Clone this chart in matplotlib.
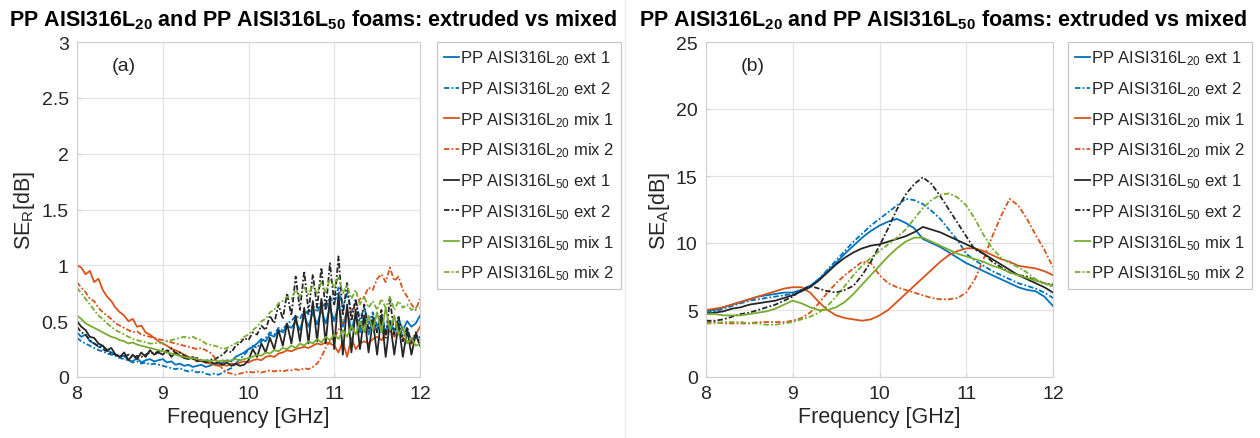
import numpy as np
import matplotlib
matplotlib.use("Agg")
import matplotlib.pyplot as plt
from matplotlib.lines import Line2D

plt.rcParams['font.family'] = ['Liberation Sans', 'DejaVu Sans']
plt.rcParams['mathtext.fontset'] = 'custom'
plt.rcParams['mathtext.rm'] = 'Liberation Sans'
plt.rcParams['mathtext.it'] = 'Liberation Sans'
plt.rcParams['mathtext.bf'] = 'Liberation Sans:bold'

# frequency grids (GHz)
freq_a = np.linspace(8, 12, 81)   # 0.05 GHz step, panel (a)
freq_b = np.linspace(8, 12, 41)   # 0.1 GHz step, panel (b)

labels = [r'PP AISI316L$_{20}$ ext 1', r'PP AISI316L$_{20}$ ext 2',
          r'PP AISI316L$_{20}$ mix 1', r'PP AISI316L$_{20}$ mix 2',
          r'PP AISI316L$_{50}$ ext 1', r'PP AISI316L$_{50}$ ext 2',
          r'PP AISI316L$_{50}$ mix 1', r'PP AISI316L$_{50}$ mix 2']

# ---- panel (a): SE_R [dB] ----
ser_20_ext1 = [0.40, 0.36, 0.38, 0.32, 0.30, 0.27, 0.28, 0.24, 0.22, 0.20,
               0.18, 0.19, 0.15, 0.14, 0.17, 0.13, 0.15, 0.16, 0.14, 0.15,
               0.16, 0.13, 0.14, 0.11, 0.12, 0.10, 0.11, 0.09, 0.10, 0.11,
               0.09, 0.10, 0.12, 0.11, 0.13, 0.15, 0.14, 0.18, 0.20, 0.22,
               0.25, 0.27, 0.30, 0.34, 0.32, 0.38, 0.36, 0.42, 0.40, 0.46,
               0.44, 0.50, 0.42, 0.55, 0.45, 0.58, 0.47, 0.60, 0.48, 0.62,
               0.50, 0.65, 0.45, 0.60, 0.42, 0.56, 0.40, 0.55, 0.38, 0.52,
               0.40, 0.55, 0.38, 0.50, 0.40, 0.52, 0.42, 0.50, 0.45, 0.48,
               0.55]
ser_20_ext2 = [0.35, 0.32, 0.30, 0.28, 0.26, 0.24, 0.23, 0.21, 0.20, 0.19,
               0.17, 0.16, 0.15, 0.13, 0.14, 0.12, 0.13, 0.11, 0.12, 0.11,
               0.10, 0.09, 0.08, 0.07, 0.08, 0.06, 0.05, 0.06, 0.04, 0.05,
               0.03, 0.02, 0.03, 0.02, 0.04, 0.06, 0.08, 0.12, 0.16, 0.20,
               0.24, 0.28, 0.26, 0.32, 0.35, 0.40, 0.38, 0.44, 0.42, 0.48,
               0.50, 0.55, 0.52, 0.60, 0.56, 0.64, 0.58, 0.68, 0.60, 0.72,
               0.65, 0.80, 0.62, 0.75, 0.58, 0.68, 0.52, 0.62, 0.48, 0.58,
               0.45, 0.55, 0.42, 0.50, 0.40, 0.46, 0.36, 0.42, 0.33, 0.38,
               0.35]
ser_20_mix1 = [1.00, 0.98, 0.92, 0.95, 0.85, 0.88, 0.78, 0.72, 0.68, 0.62,
               0.58, 0.55, 0.50, 0.52, 0.45, 0.46, 0.40, 0.38, 0.35, 0.32,
               0.30, 0.28, 0.25, 0.24, 0.22, 0.20, 0.18, 0.16, 0.15, 0.14,
               0.13, 0.12, 0.11, 0.10, 0.11, 0.10, 0.12, 0.11, 0.13, 0.14,
               0.13, 0.15, 0.16, 0.15, 0.18, 0.19, 0.18, 0.21, 0.22, 0.24,
               0.23, 0.25, 0.26, 0.27, 0.26, 0.28, 0.30, 0.29, 0.31, 0.30,
               0.28, 0.22, 0.32, 0.18, 0.35, 0.25, 0.30, 0.32, 0.30, 0.34,
               0.36, 0.33, 0.38, 0.42, 0.36, 0.40, 0.35, 0.32, 0.30, 0.38,
               0.45]
ser_20_mix2 = [0.85, 0.80, 0.76, 0.70, 0.68, 0.62, 0.58, 0.55, 0.52, 0.48,
               0.46, 0.44, 0.42, 0.40, 0.41, 0.38, 0.37, 0.36, 0.35, 0.34,
               0.33, 0.32, 0.31, 0.30, 0.29, 0.28, 0.27, 0.26, 0.25, 0.26,
               0.24, 0.22, 0.18, 0.12, 0.07, 0.04, 0.03, 0.02, 0.03, 0.04,
               0.05, 0.04, 0.05, 0.04, 0.05, 0.06, 0.05, 0.06, 0.05, 0.06,
               0.06, 0.07, 0.06, 0.08, 0.07, 0.09, 0.12, 0.18, 0.26, 0.32,
               0.35, 0.42, 0.50, 0.55, 0.62, 0.60, 0.70, 0.72, 0.80, 0.78,
               0.88, 0.92, 0.85, 0.98, 0.86, 0.90, 0.78, 0.72, 0.65, 0.60,
               0.70]
ser_50_ext1 = [0.50, 0.45, 0.42, 0.36, 0.35, 0.30, 0.28, 0.24, 0.26, 0.20,
               0.18, 0.22, 0.15, 0.20, 0.16, 0.22, 0.18, 0.24, 0.20, 0.22,
               0.20, 0.24, 0.18, 0.22, 0.19, 0.17, 0.16, 0.18, 0.14, 0.15,
               0.13, 0.14, 0.12, 0.13, 0.11, 0.13, 0.10, 0.12, 0.10, 0.11,
               0.15, 0.25, 0.18, 0.30, 0.22, 0.35, 0.25, 0.42, 0.28, 0.48,
               0.30, 0.55, 0.32, 0.62, 0.30, 0.68, 0.32, 0.70, 0.30, 0.72,
               0.25, 0.75, 0.20, 0.65, 0.22, 0.60, 0.25, 0.55, 0.22, 0.50,
               0.20, 0.55, 0.18, 0.50, 0.20, 0.48, 0.18, 0.42, 0.20, 0.38,
               0.28]
ser_50_ext2 = [0.45, 0.40, 0.38, 0.33, 0.30, 0.28, 0.25, 0.23, 0.21, 0.20,
               0.19, 0.18, 0.20, 0.17, 0.19, 0.18, 0.20, 0.22, 0.21, 0.23,
               0.25, 0.22, 0.26, 0.21, 0.22, 0.19, 0.18, 0.16, 0.17, 0.15,
               0.14, 0.16, 0.15, 0.18, 0.20, 0.24, 0.22, 0.28, 0.30, 0.35,
               0.33, 0.40, 0.38, 0.46, 0.42, 0.55, 0.48, 0.65, 0.52, 0.75,
               0.55, 0.90, 0.60, 0.95, 0.58, 0.92, 0.62, 0.98, 0.60, 1.02,
               0.65, 1.08, 0.55, 0.85, 0.50, 0.70, 0.45, 0.65, 0.42, 0.55,
               0.40, 0.60, 0.35, 0.70, 0.38, 0.55, 0.32, 0.45, 0.30, 0.40,
               0.30]
ser_50_mix1 = [0.55, 0.52, 0.48, 0.46, 0.44, 0.42, 0.40, 0.38, 0.36, 0.35,
               0.33, 0.32, 0.30, 0.31, 0.29, 0.28, 0.27, 0.26, 0.25, 0.24,
               0.23, 0.22, 0.21, 0.20, 0.19, 0.18, 0.17, 0.17, 0.16, 0.15,
               0.15, 0.14, 0.15, 0.14, 0.15, 0.14, 0.15, 0.16, 0.15, 0.16,
               0.17, 0.18, 0.20, 0.19, 0.22, 0.21, 0.24, 0.23, 0.26, 0.25,
               0.28, 0.26, 0.30, 0.28, 0.32, 0.30, 0.34, 0.31, 0.36, 0.33,
               0.38, 0.34, 0.42, 0.36, 0.46, 0.38, 0.50, 0.40, 0.55, 0.42,
               0.58, 0.40, 0.62, 0.42, 0.55, 0.38, 0.45, 0.30, 0.35, 0.28,
               0.30]
ser_50_mix2 = [0.80, 0.75, 0.70, 0.65, 0.60, 0.55, 0.52, 0.48, 0.45, 0.42,
               0.40, 0.38, 0.36, 0.34, 0.33, 0.32, 0.31, 0.30, 0.30, 0.31,
               0.30, 0.32, 0.33, 0.34, 0.35, 0.36, 0.35, 0.36, 0.34, 0.33,
               0.30, 0.29, 0.28, 0.27, 0.25, 0.26, 0.28, 0.30, 0.32, 0.36,
               0.38, 0.42, 0.45, 0.50, 0.52, 0.58, 0.60, 0.66, 0.68, 0.72,
               0.70, 0.78, 0.72, 0.80, 0.74, 0.82, 0.75, 0.85, 0.76, 0.88,
               0.80, 0.90, 0.75, 0.82, 0.70, 0.78, 0.65, 0.72, 0.62, 0.68,
               0.60, 0.70, 0.62, 0.72, 0.60, 0.68, 0.62, 0.65, 0.60, 0.62,
               0.62]

# ---- panel (b): SE_A [dB] ----
sea_20_ext1 = [4.9, 5.0, 5.2, 5.4, 5.6, 5.8, 6.0, 6.1, 6.2, 6.3,
               6.3, 6.5, 6.8, 7.3, 7.9, 8.5, 9.2, 9.8, 10.4, 10.9,
               11.3, 11.6, 11.8, 11.5, 11.1, 10.3, 10.0, 9.7, 9.3, 8.9,
               8.5, 8.2, 7.9, 7.6, 7.3, 7.0, 6.7, 6.5, 6.4, 6.0,
               5.3]
sea_20_ext2 = [4.8, 4.9, 5.1, 5.3, 5.5, 5.7, 5.8, 5.9, 6.0, 6.1,
               6.2, 6.4, 6.8, 7.3, 8.0, 8.7, 9.4, 10.1, 10.7, 11.3,
               11.8, 12.3, 12.8, 13.3, 13.2, 12.9, 12.4, 11.8, 11.0, 10.2,
               9.2, 8.7, 8.3, 7.9, 7.6, 7.3, 7.0, 6.8, 6.6, 6.3,
               5.9]
sea_20_mix1 = [5.0, 5.1, 5.2, 5.4, 5.6, 5.8, 6.0, 6.2, 6.4, 6.6,
               6.7, 6.7, 6.3, 5.6, 5.0, 4.6, 4.4, 4.3, 4.2, 4.3,
               4.6, 5.0, 5.6, 6.2, 6.8, 7.4, 8.0, 8.6, 9.1, 9.4,
               9.6, 9.6, 9.4, 9.1, 8.8, 8.6, 8.3, 8.2, 8.1, 7.9,
               7.6]
sea_20_mix2 = [4.1, 4.1, 4.0, 4.0, 4.0, 4.0, 4.1, 4.1, 4.1, 4.1,
               4.2, 4.4, 4.8, 5.5, 6.3, 7.0, 7.6, 8.1, 8.6, 8.5,
               7.6, 7.0, 6.7, 6.5, 6.3, 6.1, 5.9, 5.8, 5.8, 5.9,
               6.3, 7.3, 8.8, 10.5, 12.0, 13.3, 12.8, 11.8, 10.6, 9.5,
               8.2]
sea_50_ext1 = [4.7, 4.8, 4.9, 5.1, 5.2, 5.4, 5.5, 5.6, 5.7, 5.9,
               6.1, 6.4, 6.7, 7.2, 7.8, 8.4, 8.9, 9.3, 9.6, 9.8,
               9.9, 10.1, 10.3, 10.5, 10.8, 11.2, 11.0, 10.8, 10.5, 10.2,
               9.9, 9.6, 9.2, 8.8, 8.4, 8.0, 7.6, 7.3, 7.0, 6.7,
               6.3]
sea_50_ext2 = [4.2, 4.2, 4.3, 4.5, 4.7, 4.8, 5.0, 5.2, 5.4, 5.7,
               6.0, 6.5, 6.8, 6.6, 6.4, 6.3, 6.5, 6.8, 7.6, 8.6,
               9.8, 11.1, 12.5, 13.6, 14.4, 14.9, 14.4, 13.5, 12.5, 11.5,
               10.5, 9.5, 9.2, 8.6, 8.2, 7.8, 7.6, 7.5, 7.2, 7.0,
               6.9]
sea_50_mix1 = [4.7, 4.7, 4.6, 4.6, 4.6, 4.7, 4.8, 4.9, 5.1, 5.4,
               5.7, 5.5, 5.2, 5.0, 5.0, 5.2, 5.6, 6.2, 6.9, 7.6,
               8.3, 9.0, 9.6, 10.1, 10.4, 10.4, 10.1, 9.8, 9.5, 9.2,
               9.0, 8.8, 8.6, 8.3, 8.1, 7.8, 7.6, 7.4, 7.2, 7.0,
               6.8]
sea_50_mix2 = [4.0, 4.0, 4.1, 4.1, 4.1, 4.0, 4.0, 3.9, 3.9, 4.0,
               4.1, 4.3, 4.5, 4.8, 5.3, 6.0, 6.8, 7.6, 8.3, 8.9,
               9.4, 9.9, 10.4, 11.0, 11.8, 12.6, 13.2, 13.6, 13.7, 13.4,
               12.8, 11.8, 10.6, 9.6, 8.9, 8.5, 8.2, 7.8, 7.3, 7.0,
               6.7]

panel_a = [ser_20_ext1, ser_20_ext2, ser_20_mix1, ser_20_mix2,
           ser_50_ext1, ser_50_ext2, ser_50_mix1, ser_50_mix2]
panel_b = [sea_20_ext1, sea_20_ext2, sea_20_mix1, sea_20_mix2,
           sea_50_ext1, sea_50_ext2, sea_50_mix1, sea_50_mix2]

colors = ['#0072BD', '#0072BD', '#D95319', '#D95319',
          '#262626', '#262626', '#77AC30', '#77AC30']
dashdot = (0, (3, 1.2, 1, 1.2))
styles = ['-', dashdot] * 4

title = (r'PP AISI316L$_{\mathbf{20}}$ and PP AISI316L$_{\mathbf{50}}$ '
         'foams: extruded vs mixed')

fig = plt.figure(figsize=(12.6, 4.39), dpi=100)

panels = [
    dict(left=77, right=420, data=panel_a, freq=freq_a, ylim=(0, 3),
         yticks=[0, 0.5, 1, 1.5, 2, 2.5, 3],
         yticklabels=['0', '0.5', '1', '1.5', '2', '2.5', '3'],
         ylabel=r'SE$_\mathrm{R}$[dB]', tag='(a)', leg=437, tx=313),
    dict(left=706, right=1053, data=panel_b, freq=freq_b, ylim=(0, 25),
         yticks=[0, 5, 10, 15, 20, 25],
         yticklabels=['0', '5', '10', '15', '20', '25'],
         ylabel=r'SE$_\mathrm{A}$[dB]', tag='(b)', leg=1068, tx=943),
]

W, H = 1260, 439
for p in panels:
    ax = fig.add_axes([p['left'] / W, 1 - 378 / H,
                       (p['right'] - p['left']) / W, 335 / H])
    for vals, c, ls in zip(p['data'], colors, styles):
        ax.plot(p['freq'], vals, color=c, linestyle=ls, linewidth=1.3)
    ax.set_xlim(8, 12)
    ax.set_ylim(*p['ylim'])
    ax.set_xticks([8, 9, 10, 11, 12])
    ax.set_yticks(p['yticks'])
    ax.set_yticklabels(p['yticklabels'])
    ax.grid(True, color='#e3e3e3', linewidth=0.9)
    ax.set_axisbelow(True)
    for s in ax.spines.values():
        s.set_color('#d0d0d0')
    ax.tick_params(direction='in', length=3, colors='#d0d0d0',
                   labelcolor='#262626', labelsize=14, pad=6)
    ax.set_xlabel('Frequency [GHz]', fontsize=15.5, color='#262626', labelpad=3)
    ax.set_ylabel(p['ylabel'], fontsize=15.5, color='#262626', labelpad=3)
    ax.text(0.1, 0.93, p['tag'], transform=ax.transAxes, fontsize=14,
            color='#262626', ha='left', va='center')

    handles = [Line2D([], [], color=c, linestyle=ls, linewidth=1.3)
               for c, ls in zip(colors, styles)]
    leg = fig.legend(handles, labels, loc='upper left',
                     bbox_to_anchor=(p['leg'] / W, 1 - 43 / H),
                     fontsize=12, handlelength=0.9, handletextpad=0.1,
                     borderpad=0.4, labelspacing=0.72, borderaxespad=0,
                     fancybox=False, framealpha=1, edgecolor='#c8c8c8')
    leg.get_frame().set_linewidth(0.9)
    for t in leg.get_texts():
        t.set_color('#262626')

    fig.text(p['tx'] / W, 1 - 20 / H, title, ha='center', va='center',
             fontsize=15.5, fontweight='bold', color='black')

# thin separator between the two figures
fig.add_artist(Line2D([625 / W, 625 / W], [0.0, 1.0], color='#ececec',
                      linewidth=1, transform=fig.transFigure))

fig.savefig('out.png', dpi=100, facecolor='white')
